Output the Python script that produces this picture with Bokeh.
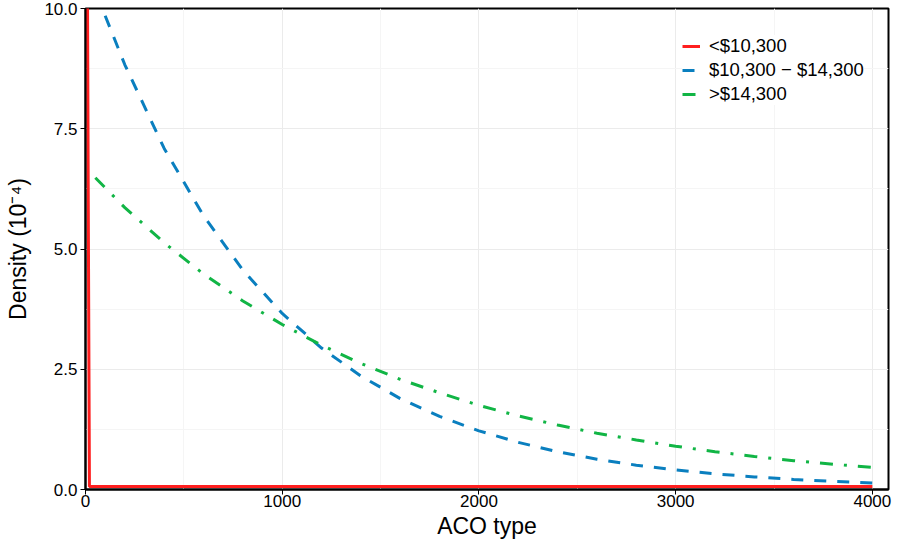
from bokeh.plotting import figure
from bokeh.models import FixedTicker, Range1d, Legend, LegendItem, CustomJSTickFormatter
from bokeh.embed import file_html
from bokeh.resources import INLINE

# ---- data ----
red_x = [10, 14, 20, 4000]
red_y = [10.5, 6.0, 0.06, 0.06]

blue_x = [100, 200, 400, 600, 800, 1000, 1200, 1400, 1600, 1800, 2000,
          2200, 2400, 2600, 2800, 3000, 3200, 3400, 3600, 3800, 4000]
blue_y = [9.85, 8.83, 7.09, 5.69, 4.56, 3.66, 2.94, 2.36, 1.89, 1.52, 1.22,
          0.98, 0.785, 0.63, 0.506, 0.406, 0.326, 0.262, 0.21, 0.168, 0.135]

green_x = [50, 200, 400, 600, 800, 1000, 1200, 1400, 1600, 1800, 2000,
           2200, 2400, 2600, 2800, 3000, 3200, 3400, 3600, 3800, 4000]
green_y = [6.48, 5.86, 5.13, 4.48, 3.92, 3.43, 3.00, 2.62, 2.29, 2.01, 1.75,
           1.53, 1.34, 1.17, 1.03, 0.90, 0.785, 0.687, 0.60, 0.525, 0.459]

labels = ["<$10,300", "$10,300 \u2212 $14,300", ">$14,300"]
x_ticks = [0, 1000, 2000, 3000, 4000]
x_minor = [500, 1500, 2500, 3500]
y_ticks = [0.0, 2.5, 5.0, 7.5, 10.0]
y_minor = [1.25, 3.75, 6.25, 8.75]

FONT = "Liberation Sans"

p = figure(width=893, height=543, output_backend="svg", toolbar_location=None,
           x_range=Range1d(0, 4082), y_range=Range1d(0, 10))
p.min_border_left = 85
p.min_border_right = 5
p.min_border_top = 8
p.min_border_bottom = 54

p.outline_line_color = "black"
p.outline_line_width = 2

r1 = p.line(red_x, red_y, line_color="#FF1F1F", line_width=3)
r2 = p.line(blue_x, blue_y, line_color="#0A7FBF", line_width=3, line_dash="12 11")
r3 = p.line(green_x, green_y, line_color="#11B545", line_width=3, line_dash="13 11 3 11")

p.xaxis.ticker = FixedTicker(ticks=x_ticks, minor_ticks=x_minor)
p.yaxis.ticker = FixedTicker(ticks=y_ticks, minor_ticks=y_minor)
p.yaxis.formatter = CustomJSTickFormatter(code="return tick.toFixed(1);")

for ax in (p.xaxis, p.yaxis):
    ax.axis_line_color = "black"
    ax.axis_line_width = 2
    ax.major_tick_line_color = "black"
    ax.major_tick_line_width = 1
    ax.major_tick_out = 5
    ax.major_tick_in = 0
    ax.minor_tick_line_color = None
    ax.major_label_text_font = FONT
    ax.major_label_text_font_size = "17px"
    ax.major_label_text_color = "black"
    ax.axis_label_text_font = FONT
    ax.axis_label_text_font_size = "23px"
    ax.axis_label_text_font_style = "normal"
    ax.axis_label_text_color = "black"

p.xaxis.axis_label = "ACO type"
p.yaxis.axis_label = "Density (10\u207b\u2074)"
p.xaxis.major_label_standoff = 0
p.yaxis.major_label_standoff = 3
p.xaxis.axis_label_standoff = 3
p.yaxis.axis_label_standoff = 10

p.xgrid.grid_line_color = "#EBEBEB"
p.ygrid.grid_line_color = "#EBEBEB"
p.xgrid.minor_grid_line_color = "#F5F5F5"
p.ygrid.minor_grid_line_color = "#F5F5F5"

legend = Legend(items=[LegendItem(label=labels[0], renderers=[r1]),
                       LegendItem(label=labels[1], renderers=[r2]),
                       LegendItem(label=labels[2], renderers=[r3])],
                location=(597, 384))
legend.border_line_color = None
legend.background_fill_color = "white"
legend.background_fill_alpha = 1.0
legend.label_text_font = FONT
legend.label_text_font_size = "18.5px"
legend.label_text_color = "black"
legend.glyph_width = 18
legend.spacing = 2
legend.label_standoff = 9
legend.margin = 0
legend.padding = 6
p.add_layout(legend)

open("out.html", "w").write(file_html(p, INLINE))
